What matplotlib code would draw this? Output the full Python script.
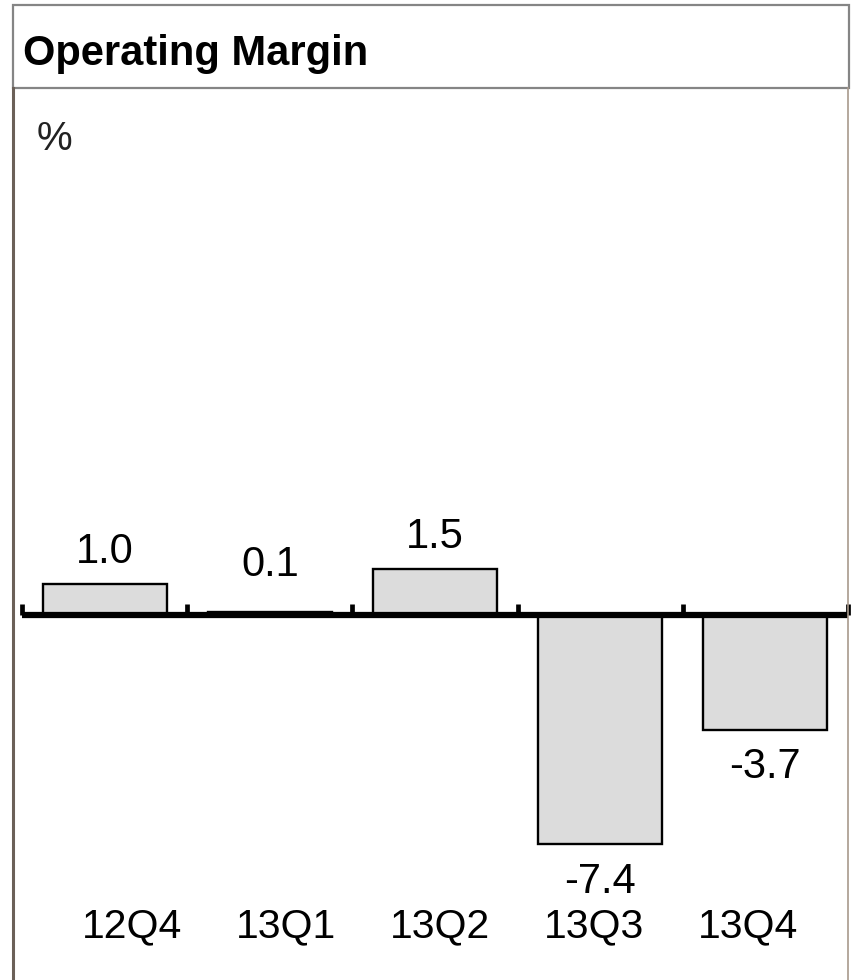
import matplotlib
matplotlib.use("Agg")
import matplotlib.pyplot as plt
from matplotlib.lines import Line2D
from matplotlib.patches import Rectangle

# Quarterly operating margin, %
quarters = ["12Q4", "13Q1", "13Q2", "13Q3", "13Q4"]
margin = [1.0, 0.1, 1.5, -7.4, -3.7]
value_labels = ["1.0", "0.1", "1.5", "-7.4", "-3.7"]

W, H = 851, 980
DPI = 100
plt.rcParams["font.family"] = ["Liberation Sans", "DejaVu Sans"]

fig = plt.figure(figsize=(W / DPI, H / DPI), dpi=DPI)


def fx(px):
    return px / W


def fy(py):
    return (H - py) / H


# panel frame: title box on top, open body below
fig.patches.append(Rectangle((fx(13), fy(88)), fx(849) - fx(13), fy(5) - fy(88),
                             transform=fig.transFigure, fill=False,
                             edgecolor="#858585", linewidth=1.6))
fig.lines.append(Line2D([fx(13), fx(13)], [fy(88), 0], transform=fig.transFigure,
                        color="#6b6058", linewidth=2.2))
fig.lines.append(Line2D([fx(847.5), fx(847.5)], [fy(88), 0], transform=fig.transFigure,
                        color="#a8998c", linewidth=1.2))

fig.text(fx(23), fy(65), "Operating Margin", fontsize=30, fontweight="bold",
         ha="left", va="baseline", color="black")
fig.text(fx(37), fy(150), "%", fontsize=29, ha="left", va="baseline", color="#222222")

# plotting area
ax_left, ax_right = 22, 848
ax_top, ax_bottom = 100, 900
ax = fig.add_axes([fx(ax_left), fy(ax_bottom), fx(ax_right) - fx(ax_left),
                   fy(ax_top) - fy(ax_bottom)])
ax.patch.set_visible(False)

px_per_unit = 31.0
zero_py = 615
ax.set_xlim(-0.5, len(quarters) - 0.5)
ax.set_ylim(-(ax_bottom - zero_py) / px_per_unit, (zero_py - ax_top) / px_per_unit)

x = list(range(len(quarters)))
ax.bar(x, margin, width=0.75, color="#dcdcdc", edgecolor="black", linewidth=1.7,
       zorder=2)

for side in ("top", "left", "right"):
    ax.spines[side].set_visible(False)
ax.spines["bottom"].set_position(("data", 0))
ax.spines["bottom"].set_linewidth(4.5)
ax.spines["bottom"].set_zorder(3)
ax.spines["bottom"].set_capstyle("butt")

ax.set_yticks([])
ax.set_xticks([])
ax.set_xticks([i - 0.5 for i in range(len(quarters) + 1)], minor=True)
ax.tick_params(axis="x", which="minor", direction="in", length=8, width=3.4,
               color="black")

# value labels above / below each bar
for xi, v, lab in zip(x, margin, value_labels):
    if v >= 0:
        ax.annotate(lab, (xi, max(v, 0.6)), xytext=(0, 15), textcoords="offset points",
                    ha="center", va="baseline", fontsize=30, color="black")
    else:
        ax.annotate(lab, (xi, v), xytext=(0, -35), textcoords="offset points",
                    ha="center", va="baseline", fontsize=30, color="black")

# category labels along the bottom of the panel
label_centers = [132, 286, 440, 594, 748]
for cx, q in zip(label_centers, quarters):
    ax.text((cx - ax_left) / (ax_right - ax_left), (ax_bottom - 937) / (ax_bottom - ax_top),
            q, transform=ax.transAxes, ha="center", va="baseline", fontsize=29.5,
            color="black")

fig.savefig("out.png", dpi=DPI)
